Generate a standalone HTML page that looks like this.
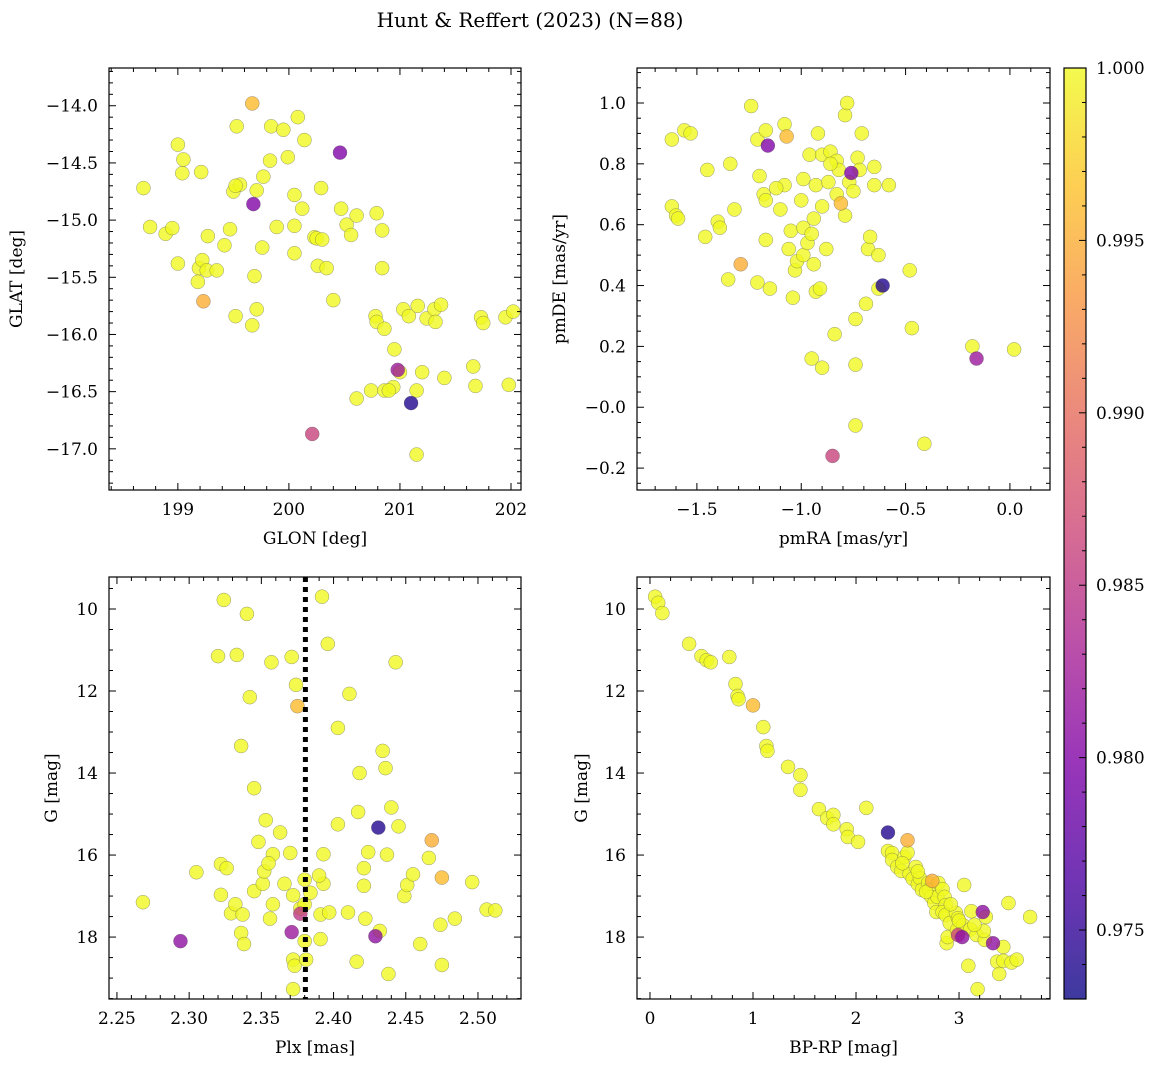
<!DOCTYPE html>
<html><head><meta charset="utf-8"><style>
html,body{margin:0;padding:0;background:#fff;}
svg{display:block;font-family:"DejaVu Serif","Liberation Serif",serif;}
</style></head><body>
<svg id="fig" width="1161" height="1067" viewBox="0 0 1161 1067" xmlns="http://www.w3.org/2000/svg">
<defs>
<linearGradient id="plasma" x1="0" y1="1" x2="0" y2="0">
<stop offset="0" stop-color="#0d0887"/><stop offset="0.125" stop-color="#4c02a1"/><stop offset="0.25" stop-color="#7e03a8"/><stop offset="0.375" stop-color="#a92395"/><stop offset="0.5" stop-color="#cc4778"/><stop offset="0.625" stop-color="#e56b5d"/><stop offset="0.75" stop-color="#f89540"/><stop offset="0.875" stop-color="#fdc328"/><stop offset="1" stop-color="#f0f921"/>
</linearGradient>
</defs>
<text x="530" y="27" font-size="20" text-anchor="middle">Hunt &amp; Reffert (2023) (N=88)</text>
</svg>
<script>
// ---- data ----
const glon=[198.69,198.75,198.89,198.95,199.0,199.05,199.04,199.0,199.19,199.18,199.21,199.22,199.27,199.26,199.23,199.5,199.56,199.52,199.47,199.42,199.53,199.52,199.67,199.68,199.67,199.69,199.71,199.71,199.77,199.76,199.83,199.84,199.89,199.95,199.99,200.05,200.08,200.12,200.05,200.14,200.05,200.23,200.25,200.26,200.29,200.34,200.40,200.46,200.47,200.52,200.61,200.56,200.21,200.61,200.79,200.84,200.84,200.78,200.79,200.86,200.74,200.86,200.94,200.95,201.0,200.98,201.03,201.08,201.1,201.16,201.15,201.15,201.24,201.31,201.32,201.37,201.66,201.68,201.73,201.75,201.40,201.95,201.98,202.02,201.2,200.3,199.35,200.9];
const glat=[-14.72,-15.06,-15.12,-15.07,-14.34,-14.47,-14.59,-15.38,-15.42,-15.54,-14.58,-15.35,-15.14,-15.44,-15.71,-14.75,-14.69,-14.70,-15.08,-15.22,-14.18,-15.84,-13.98,-14.86,-15.92,-15.49,-15.78,-14.74,-14.62,-15.24,-14.48,-14.18,-15.06,-14.21,-14.45,-14.78,-14.10,-14.90,-15.05,-14.30,-15.29,-15.15,-15.16,-15.40,-14.72,-15.42,-15.70,-14.41,-14.90,-15.04,-14.96,-15.13,-16.87,-16.56,-14.94,-15.09,-15.42,-15.84,-15.89,-15.95,-16.49,-16.49,-16.46,-16.13,-16.33,-16.31,-15.78,-15.84,-16.60,-15.75,-16.49,-17.05,-15.86,-15.78,-15.89,-15.74,-16.28,-16.45,-15.85,-15.90,-16.38,-15.85,-16.44,-15.80,-16.33,-15.17,-15.44,-16.49];
const probTL=[1,1,1,1,1,1,1,1,1,1,1,1,1,1,0.995,1,1,1,1,1,1,1,0.996,0.980,1,1,1,1,1,1,1,1,1,1,1,1,1,1,1,1,1,1,1,1,1,1,1,0.980,1,1,1,1,0.986,1,1,1,1,1,1,1,1,1,1,1,1,0.982,1,1,0.974,1,1,1,1,1,1,1,1,1,1,1,1,1,1,1,1,1,1,1];
const pmra=[-1.62,-1.62,-1.60,-1.59,-1.56,-1.53,-1.46,-1.45,-1.40,-1.39,-1.35,-1.34,-1.32,-1.29,-1.24,-1.21,-1.20,-1.21,-1.18,-1.17,-1.16,-1.17,-1.17,-1.15,-1.10,-1.08,-1.07,-1.08,-1.05,-1.06,-1.04,-1.03,-1.02,-1.0,-0.99,-0.99,-0.99,-0.97,-0.96,-0.95,-0.94,-0.94,-0.93,-0.93,-0.92,-0.91,-0.90,-0.90,-0.90,-0.88,-0.87,-0.86,-0.85,-0.84,-0.83,-0.83,-0.82,-0.81,-0.79,-0.79,-0.78,-0.77,-0.76,-0.74,-0.74,-0.74,-0.73,-0.72,-0.71,-0.69,-0.68,-0.67,-0.65,-0.65,-0.63,-0.61,-0.63,-0.58,-0.48,-0.47,-0.41,-0.18,-0.16,0.02,-0.86,-1.12,-0.95,-0.75];
const pmde=[0.88,0.66,0.63,0.62,0.91,0.90,0.56,0.78,0.61,0.59,0.42,0.80,0.65,0.47,0.99,0.88,0.76,0.41,0.70,0.91,0.86,0.68,0.55,0.39,0.65,0.93,0.89,0.73,0.58,0.52,0.36,0.45,0.48,0.68,0.50,0.75,0.59,0.54,0.83,0.16,0.62,0.47,0.38,0.73,0.90,0.39,0.83,0.66,0.13,0.52,0.74,0.84,-0.16,0.24,0.70,0.81,0.78,0.67,0.63,0.96,1.0,0.74,0.77,0.14,-0.06,0.29,0.82,0.78,0.90,0.34,0.52,0.56,0.79,0.73,0.50,0.40,0.39,0.73,0.45,0.26,-0.12,0.20,0.16,0.19,0.80,0.72,0.57,0.71];
const probTR=[1,1,1,1,1,1,1,1,1,1,1,1,1,0.995,1,1,1,1,1,1,0.980,1,1,1,1,1,0.996,1,1,1,1,1,1,1,1,1,1,1,1,1,1,1,1,1,1,1,1,1,1,1,1,1,0.986,1,1,1,1,0.996,1,1,1,1,0.980,1,1,1,1,1,1,1,1,1,1,1,1,0.974,1,1,1,1,1,1,0.982,1,1,1,1,1];
const plx=[2.268,2.294,2.305,2.32,2.322,2.324,2.322,2.326,2.329,2.332,2.333,2.336,2.336,2.337,2.34,2.338,2.342,2.345,2.345,2.348,2.351,2.352,2.353,2.356,2.358,2.358,2.357,2.363,2.366,2.37,2.371,2.371,2.372,2.373,2.372,2.372,2.374,2.375,2.377,2.377,2.38,2.38,2.38,2.381,2.384,2.392,2.391,2.393,2.393,2.391,2.397,2.396,2.403,2.403,2.411,2.416,2.417,2.418,2.421,2.421,2.422,2.424,2.431,2.429,2.432,2.434,2.436,2.437,2.438,2.44,2.443,2.449,2.451,2.455,2.46,2.466,2.468,2.474,2.475,2.475,2.484,2.496,2.506,2.512,2.445,2.355,2.39,2.41];
const gBL=[17.15,18.1,16.42,11.15,16.22,9.78,16.97,16.32,17.42,17.2,11.12,13.34,17.9,17.45,10.12,18.17,12.15,14.37,16.88,15.68,16.7,16.4,15.15,17.55,17.2,15.98,11.3,15.45,16.7,15.95,17.88,11.17,18.55,18.7,19.27,16.98,11.85,12.37,17.3,17.43,16.6,17.2,18.1,18.55,16.92,9.7,18.05,15.98,16.7,17.45,17.4,10.85,12.9,15.25,12.07,18.6,14.95,14.0,16.32,16.75,17.55,15.93,15.33,17.98,17.85,13.46,13.88,15.99,18.9,14.84,11.3,17.0,16.73,16.47,18.17,16.07,15.64,17.7,16.55,18.68,17.55,16.66,17.33,17.35,15.3,16.2,16.5,17.4];
const probBL=[1,0.981,1,1,1,1,1,1,1,1,1,1,1,1,1,1,1,1,1,1,1,1,1,1,1,1,1,1,1,1,0.982,1,1,1,1,1,1,0.996,1,0.985,1,1,1,1,1,1,1,1,1,1,1,1,1,1,1,1,1,1,1,1,1,1,0.974,0.981,1,1,1,1,1,1,1,1,1,1,1,1,0.995,1,0.996,1,1,1,1,1,1,1,1,1];
const bprp=[0.05,0.08,0.12,0.38,0.5,0.55,0.59,0.77,0.83,0.85,0.86,1.0,1.1,1.13,1.14,1.34,1.46,1.46,1.64,1.72,1.78,1.78,1.91,1.92,2.02,2.1,2.31,2.31,2.35,2.35,2.4,2.44,2.47,2.5,2.5,2.52,2.55,2.58,2.6,2.62,2.64,2.7,2.71,2.73,2.74,2.76,2.78,2.79,2.8,2.84,2.86,2.87,2.84,2.87,2.88,2.89,2.91,2.97,2.99,2.98,2.99,3.03,3.04,3.05,3.09,3.12,3.11,3.17,3.18,3.23,3.25,3.24,3.26,3.33,3.37,3.39,3.43,3.43,3.48,3.51,3.56,3.69,2.45,2.68,2.92,3.0,3.15,2.6];
const gBR=[9.7,9.85,10.1,10.85,11.15,11.25,11.3,11.17,11.83,12.12,12.2,12.35,12.88,13.34,13.46,13.85,14.05,14.41,14.88,15.1,15.02,15.25,15.37,15.56,15.68,14.85,15.45,15.9,15.95,16.12,16.29,16.39,16.05,15.64,15.94,16.46,16.58,16.29,16.71,16.56,16.85,16.68,16.85,17.02,16.63,17.17,17.39,17.02,16.68,16.83,17.02,17.22,17.39,17.46,18.15,18.0,17.66,17.41,17.54,17.83,17.95,18.0,17.71,16.73,18.7,17.37,17.81,17.95,19.27,17.39,18.07,17.85,17.51,18.15,18.6,18.9,18.24,18.58,17.17,18.62,18.55,17.51,16.2,16.9,17.2,17.6,17.7,16.4];
const probBR=[1,1,1,1,1,1,1,1,1,1,1,0.996,1,1,1,1,1,1,1,1,1,1,1,1,1,1,0.974,1,1,1,1,1,1,0.995,1,1,1,1,1,1,1,1,1,1,0.995,1,1,1,1,1,1,1,1,1,1,1,1,1,1,1,0.986,0.981,1,1,1,1,1,1,1,0.981,1,1,1,0.981,1,1,1,1,1,1,1,1,1,1,1,1,1,1];
const plxLine=[2.3805];
const cbTicks=[0.975,0.980,0.985,0.990,0.995,1.000];

const NS="http://www.w3.org/2000/svg";
const svg=document.getElementById('fig');
function mk(tag,attrs,parent){const e=document.createElementNS(NS,tag);for(const k in attrs)e.setAttribute(k,attrs[k]);(parent||svg).appendChild(e);return e;}
const stops=[[0,[13,8,135]],[0.125,[76,2,161]],[0.25,[126,3,168]],[0.375,[169,35,149]],[0.5,[204,71,120]],[0.625,[229,107,93]],[0.75,[248,149,64]],[0.875,[253,195,40]],[1,[240,249,33]]];
const VMIN=0.973,VMAX=1.0;
function cmap(v){let t=Math.max(0,Math.min(1,(v-VMIN)/(VMAX-VMIN)));for(let i=1;i<stops.length;i++){if(t<=stops[i][0]){const a=stops[i-1],b=stops[i];const f=(t-a[0])/(b[0]-a[0]);const c=a[1].map((x,j)=>Math.round(x+(b[1][j]-x)*f));return `rgb(${c[0]},${c[1]},${c[2]})`;}}return 'rgb(240,249,33)';}
function fmt(v,d){const s=v.toFixed(d);return s.replace('-','\u2212');}

function panel(cfg){
  const g=mk('g',{});
  
  
  const {x0,y0,x1,y1,xmin,xmax,ymin,ymax,invY}=cfg;
  const sx=v=>x0+(v-xmin)/(xmax-xmin)*(x1-x0);
  const sy=v=>invY? y0+(v-ymin)/(ymax-ymin)*(y1-y0) : y1-(v-ymin)/(ymax-ymin)*(y1-y0);
  const pg=mk('g',{},g);
  
  
  const idx=cfg.xs.map((_,i)=>i).sort((a,b)=>cfg.c[b]-cfg.c[a]);
  idx.forEach(i=>{
    const c=mk('circle',{cx:sx(cfg.xs[i]),cy:sy(cfg.ys[i]),r:7,fill:cmap(cfg.c[i]),'fill-opacity':0.8,stroke:'#555','stroke-opacity':0.6,'stroke-width':0.5},pg);
    
    
  });
  if(cfg.extra)cfg.extra(g,sx,sy);
  mk('rect',{x:x0,y:y0,width:x1-x0,height:y1-y0,fill:'none',stroke:'#000','stroke-width':1.2},g);
  const eps=1e-9;
  for(let v=Math.ceil(xmin/cfg.xminor-eps)*cfg.xminor;v<=xmax+eps;v+=cfg.xminor){
    const X=sx(v);const major=Math.abs(v/cfg.xmajor-Math.round(v/cfg.xmajor))<1e-6;const L=major?7:4;
    mk('line',{x1:X,y1:y1,x2:X,y2:y1-L,stroke:'#000','stroke-width':1},g);
    mk('line',{x1:X,y1:y0,x2:X,y2:y0+L,stroke:'#000','stroke-width':1},g);
    if(major){const t=mk('text',{x:X,y:y1+25,'font-size':17,'text-anchor':'middle'},g);t.textContent=fmt(v,cfg.xdec);
      }
  }
  for(let v=Math.ceil(ymin/cfg.yminor-eps)*cfg.yminor;v<=ymax+eps;v+=cfg.yminor){
    const Y=sy(v);const major=Math.abs(v/cfg.ymajor-Math.round(v/cfg.ymajor))<1e-6;const L=major?7:4;
    mk('line',{x1:x0,y1:Y,x2:x0+L,y2:Y,stroke:'#000','stroke-width':1},g);
    mk('line',{x1:x1,y1:Y,x2:x1-L,y2:Y,stroke:'#000','stroke-width':1},g);
    if(major){const t=mk('text',{x:x0-11,y:Y+6,'font-size':17,'text-anchor':'end'},g);t.textContent=fmt(v,cfg.ydec);
      }
  }
  const xl=mk('text',{x:(x0+x1)/2,y:y1+54,'font-size':17,'text-anchor':'middle'},g);xl.textContent=cfg.xlabel;
  
  const yl=mk('text',{x:cfg.ylx,y:(y0+y1)/2,'font-size':17,'text-anchor':'middle',transform:`rotate(-90 ${cfg.ylx} ${(y0+y1)/2})`},g);yl.textContent=cfg.ylabel;
  
}

panel({name:'glon-glat-panel',x0:109,y0:68,x1:521,y1:490,xmin:198.38,xmax:202.09,ymin:-17.36,ymax:-13.67,xs:glon,ys:glat,c:probTL,xmajor:1,xminor:0.2,ymajor:0.5,yminor:0.1,xdec:0,ydec:1,xlabel:'GLON [deg]',ylabel:'GLAT [deg]',ylx:22});
panel({name:'proper-motion-panel',x0:637,y0:68,x1:1050,y1:490,xmin:-1.787,xmax:0.192,ymin:-0.272,ymax:1.115,xs:pmra,ys:pmde,c:probTR,xmajor:0.5,xminor:0.1,ymajor:0.2,yminor:0.05,xdec:1,ydec:1,xlabel:'pmRA [mas/yr]',ylabel:'pmDE [mas/yr]',ylx:565});
panel({name:'parallax-panel',x0:109,y0:577,x1:521,y1:999,xmin:2.2445,xmax:2.5298,ymin:9.22,ymax:19.51,invY:true,xs:plx,ys:gBL,c:probBL,xmajor:0.05,xminor:0.01,ymajor:2,yminor:0.5,xdec:2,ydec:0,xlabel:'Plx [mas]',ylabel:'G [mag]',ylx:57,
  extra:(g,sx,sy)=>{plxLine.forEach(v=>{const l=mk('line',{x1:sx(v),y1:577,x2:sx(v),y2:999,stroke:'#000','stroke-width':5,'stroke-dasharray':'5,5'},g);
    });}});
panel({name:'cmd-panel',x0:637,y0:577,x1:1050,y1:999,xmin:-0.126,xmax:3.883,ymin:9.22,ymax:19.51,invY:true,xs:bprp,ys:gBR,c:probBR,xmajor:1,xminor:0.2,ymajor:2,yminor:0.5,xdec:0,ydec:0,xlabel:'BP-RP [mag]',ylabel:'G [mag]',ylx:587});

const cb=mk('g',{});


const cx0=1064,cx1=1086,cy0=68,cy1=999;
mk('rect',{x:cx0,y:cy0,width:cx1-cx0,height:cy1-cy0,fill:'url(#plasma)','fill-opacity':0.8},cb);
mk('rect',{x:cx0,y:cy0,width:cx1-cx0,height:cy1-cy0,fill:'none',stroke:'#000','stroke-width':1.2},cb);
const cy=v=>cy1-(v-VMIN)/(VMAX-VMIN)*(cy1-cy0);
for(let k=Math.ceil(VMIN*1000-1e-6);k<=1000;k++){const v=k/1000;const major=k%5===0;
  mk('line',{x1:cx1,y1:cy(v),x2:cx1-(major?7:4),y2:cy(v),stroke:'#000','stroke-width':1},cb);}
cbTicks.forEach(v=>{const t=mk('text',{x:1096,y:cy(v)+6,'font-size':17},cb);t.textContent=v.toFixed(3);
  });
</script>
</body></html>
